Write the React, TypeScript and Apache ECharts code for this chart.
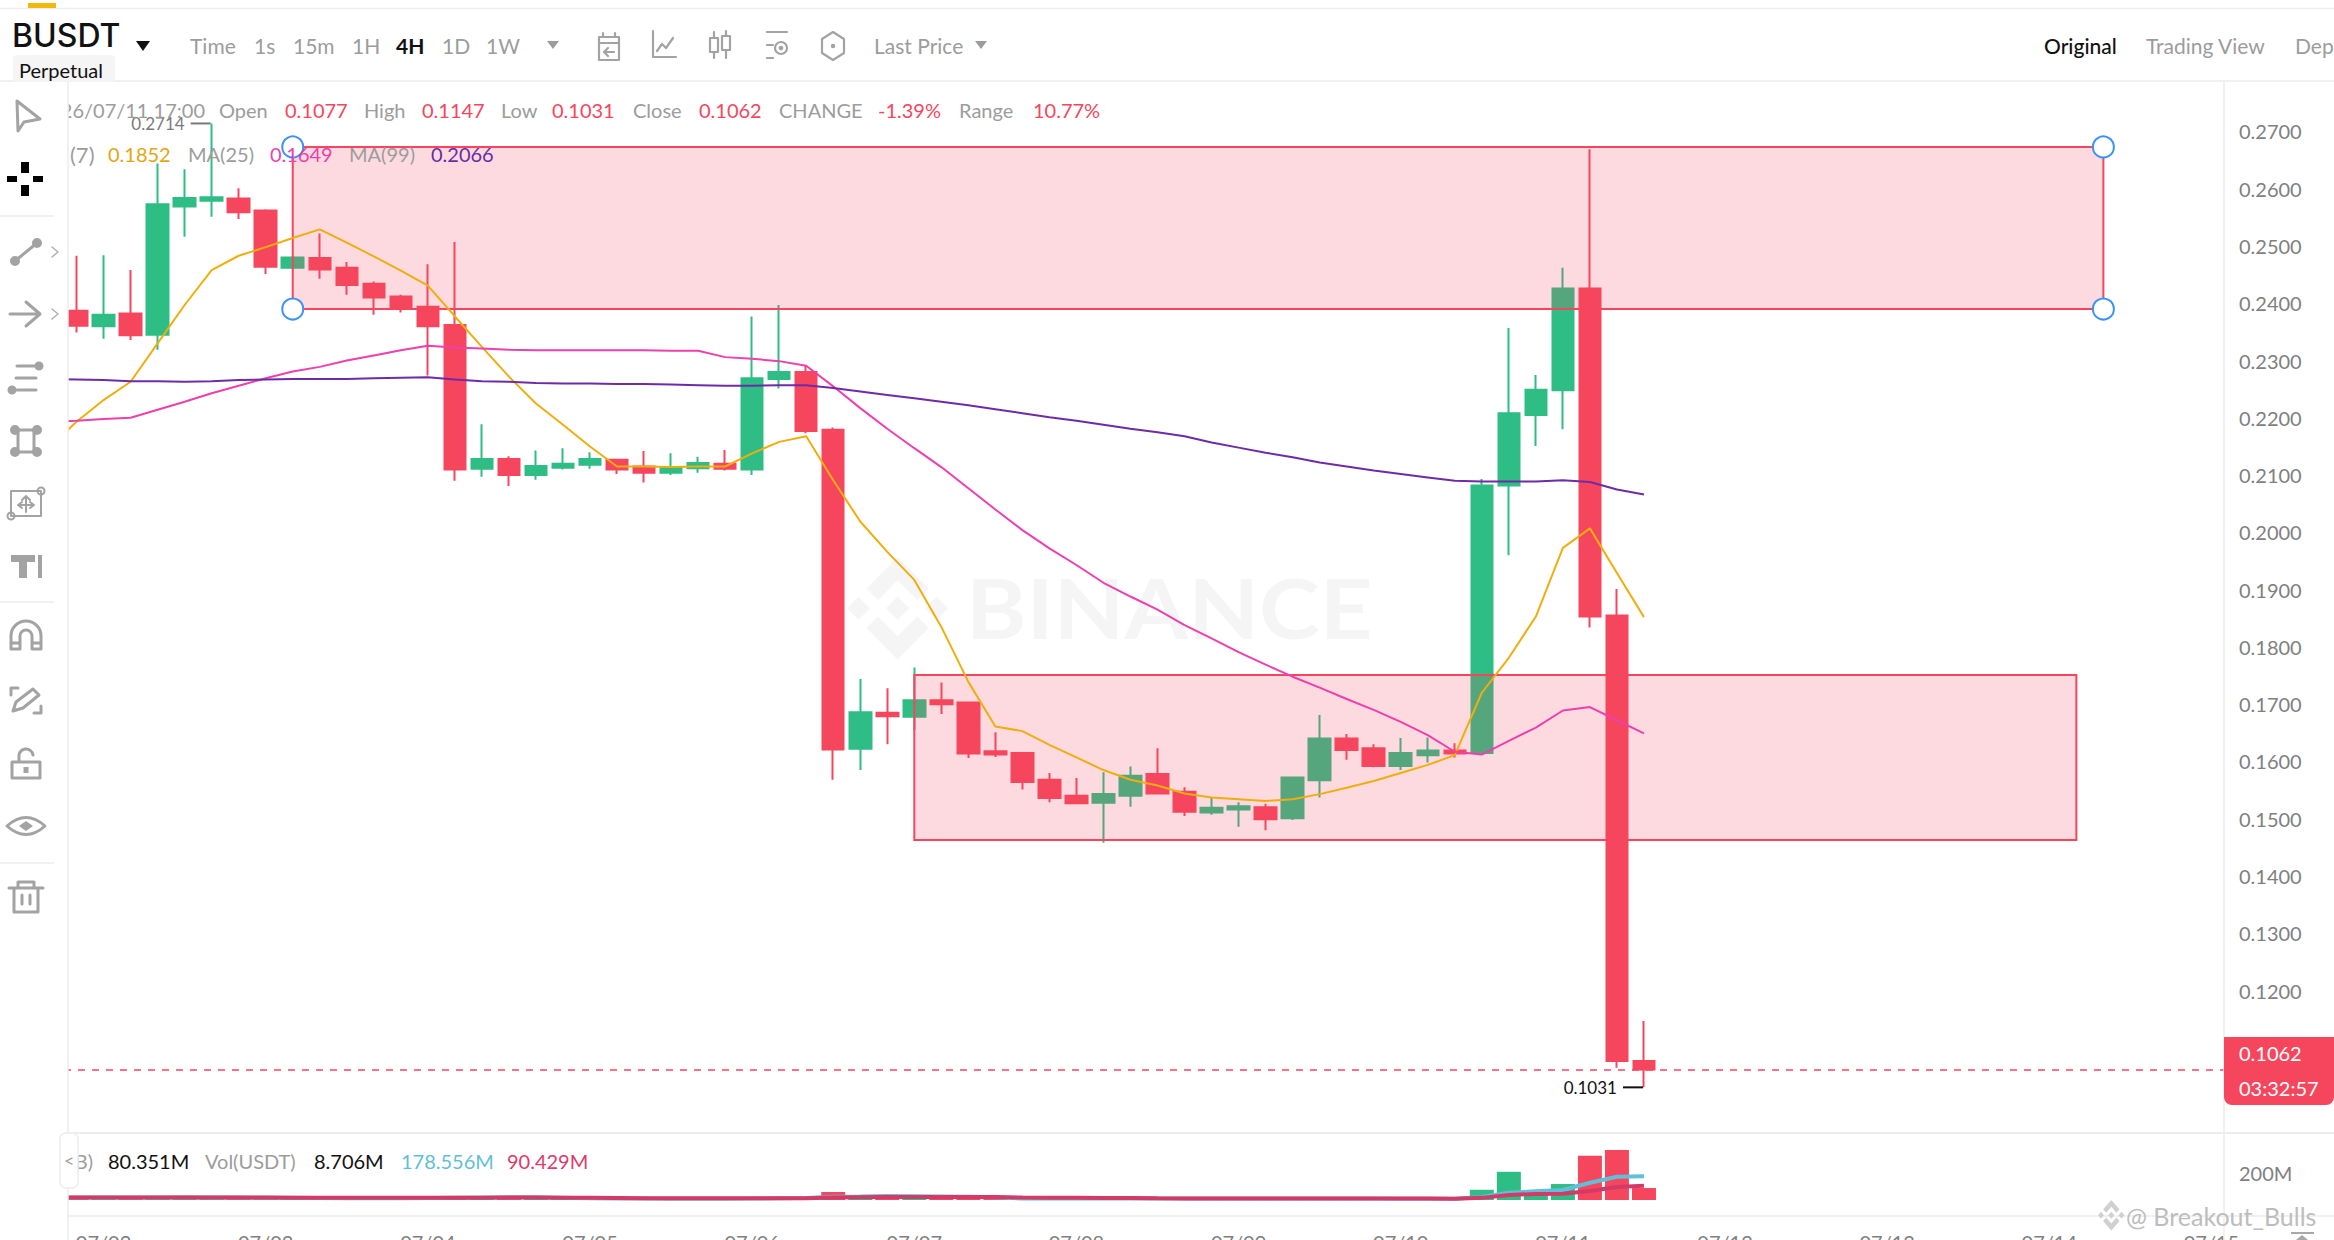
import React, { useEffect, useRef } from "react";
import * as echarts from "echarts";

const opens = [.2395,.2387,.2360,.2382,.2345,.2569,.2579,.2583,.2562,.2462,.2479,.2462,.2434,.2412,.2394,.2362,.2111,.2128,.2100,.2113,.2118,.2127,.2115,.2104,.2112,.2120,.2110,.2268,.2280,.2179,.1622,.1685,.1678,.1707,.1703,.1618,.1615,.1568,.1540,.1528,.1540,.1578,.1547,.1511,.1516,.1520,.1501,.1567,.1640,.1623,.1592,.1611,.1619,.1615,.2082,.2205,.2248,.2426,.1855,.1077];
const closes = [.2387,.2361,.2380,.2344,.2573,.2584,.2585,.2559,.2464,.2480,.2459,.2432,.2410,.2393,.2360,.2110,.2128,.2100,.2116,.2120,.2128,.2110,.2104,.2114,.2121,.2111,.2269,.2280,.2177,.1621,.1686,.1679,.1707,.1700,.1614,.1612,.1564,.1536,.1527,.1543,.1575,.1544,.1512,.1519,.1522,.1499,.1572,.1640,.1620,.1592,.1615,.1619,.1614,.2082,.2208,.2249,.2426,.1853,.1077,.1062];
const lows = [.2370,.2349,.2338,.2336,.2319,.2516,.2551,.2547,.2451,.2460,.2443,.2415,.2380,.2384,.2274,.2090,.2097,.2081,.2092,.2110,.2111,.2102,.2087,.2100,.2104,.2108,.2100,.2251,.2173,.1568,.1585,.1630,.1655,.1683,.1606,.1608,.1551,.1529,.1526,.1458,.1521,.1543,.1505,.1507,.1486,.1480,.1498,.1537,.1603,.1590,.1585,.1598,.1607,.1614,.1960,.2151,.2180,.1834,.1065,.1031];
const highs = [.2440,.2483,.2484,.2458,.2644,.2634,.2714,.2601,.2564,.2482,.2522,.2472,.2438,.2415,.2468,.2507,.2189,.2133,.2143,.2147,.2140,.2127,.2142,.2138,.2132,.2144,.2377,.2397,.2291,.2183,.1744,.1728,.1764,.1738,.1703,.1651,.1616,.1580,.1571,.1581,.1591,.1623,.1555,.1536,.1529,.1526,.1572,.1681,.1648,.1630,.1641,.1642,.1632,.2093,.2357,.2275,.2462,.2669,.1901,.1147];
const ma7 = [.2149,.2193,.2231,.2263,.2330,.2397,.2458,.2483,.2498,.2514,.2529,.2506,.2482,.2457,.2431,.2377,.2324,.2272,.2225,.2188,.2150,.2115,.2115,.2114,.2115,.2115,.2138,.2158,.2168,.2091,.2019,.1966,.1917,.1835,.1739,.1661,.1653,.1629,.1607,.1585,.1568,.1558,.1544,.1537,.1534,.1531,.1534,.1543,.1554,.1566,.1580,.1594,.1611,.1720,.1781,.1853,.1973,.2007,.1929,.1852];
const ma25 = [.2193,.2195,.2198,.2200,.2214,.2228,.2243,.2256,.2269,.2281,.2289,.2300,.2309,.2318,.2326,.2323,.2321,.2319,.2318,.2318,.2318,.2318,.2318,.2317,.2317,.2306,.2303,.2299,.2291,.2255,.2217,.2181,.2147,.2114,.2077,.2040,.2004,.1972,.1943,.1912,.1888,.1865,.1838,.1815,.1791,.1769,.1748,.1729,.1709,.1690,.1669,.1646,.1617,.1612,.1636,.1659,.1689,.1695,.1672,.1649];
const ma99 = [.2268,.2267,.2266,.2264,.2264,.2263,.2264,.2266,.2267,.2268,.2268,.2268,.2269,.2270,.2271,.2267,.2264,.2263,.2261,.2260,.2260,.2259,.2259,.2258,.2257,.2256,.2256,.2257,.2257,.2252,.2246,.2240,.2234,.2228,.2222,.2215,.2208,.2201,.2195,.2188,.2181,.2175,.2168,.2157,.2148,.2139,.2131,.2122,.2115,.2108,.2102,.2096,.2090,.2089,.2089,.2089,.2091,.2088,.2075,.2066];
const volumes = [18,18,16,20,22,14,12,14,20,12,14,14,12,10,24,30,18,16,12,10,9,10,10,10,9,8,22,14,20,60,22,14,12,10,14,9,12,12,9,12,10,12,12,10,9,10,14,12,10,9,9,8,8,77,212,70,120,332,376,90];
const volMa5 = [19,19,18,18,19,20,19,18,16,16,15,14,14,13,15,17,19,20,20,17,14,12,11,10,10,9,11,13,15,25,27,30,28,26,24,20,12,11,11,11,11,11,11,11,11,11,11,11,11,11,10,9,9,22,55,65,75,130,175,179];
const volMa10 = [18,18,18,18,18,18,18,18,18,17,17,17,16,16,16,16,17,18,18,17,16,15,14,13,13,13,13,14,14,18,20,22,22,22,22,22,19,17,16,15,15,13,12,12,11,11,11,11,11,11,11,11,10,16,38,45,47,68,97,107];
const dateLabels = ["07/02","07/03","07/04","07/05","07/06","07/07","07/08","07/09","07/10","07/11","07/12","07/13","07/14","07/15"];
const slotCount = 81;
const priceTicks = [0.12,0.13,0.14,0.15,0.16,0.17,0.18,0.19,0.2,0.21,0.22,0.23,0.24,0.25,0.26,0.27];
const upperZone = { from: 9, to: 76, top: 0.2673, bottom: 0.239 };
const lowerZone = { from: 32, to: 75, top: 0.1751, bottom: 0.1463 };
const lastPrice = 0.1062;

const GREEN = "#2EBD85";
const RED = "#F6465D";
const FONT = "Lato";
const GREY = "#9C9C9C";
const ICON = "#A3A3A3";

const circ = (cx: number, cy: number, r: number) =>
  `M${cx - r},${cy} A${r},${r} 0 1 1 ${cx + r},${cy} A${r},${r} 0 1 1 ${cx - r},${cy} Z `;

const BINANCE_LOGO = "M38.73 53.2L63.3 28.64l24.58 24.58 14.3-14.3L63.3 0 24.43 38.88l14.3 14.3zM0 63.31l14.3-14.3 14.3 14.3-14.3 14.3L0 63.31zm38.73 10.1L63.3 97.97l24.58-24.57 14.3 14.29-.01.01L63.3 126.61 24.43 87.74l-.02-.02 14.32-14.31zm58.98-10.1l14.3-14.3 14.3 14.3-14.3 14.3-14.3-14.3zM77.83 63.3h.01v.01L63.3 77.85 48.78 63.33l-.02-.02.02-.02 2.54-2.54 1.24-1.24L63.3 48.77l14.53 14.53z";

const shapes: Record<string, string> = {
  binanceLogo: BINANCE_LOGO,
  icCursor: "M-10,-15 L13,3 L-3,6 L-9,15 Z",
  icCross: "M-18,-3 H-8 V3 H-18 Z M8,-3 H18 V3 H8 Z M-4,-17 H4 V-6 H-4 Z M-4,6 H4 V17 H-4 Z",
  icLineDots: circ(-11, 9, 5) + circ(11, -9, 5),
  icLineBar: "M-11,9 L11,-9",
  icArrow: "M-16,0 H14 M0,-12 L14,0 L0,12",
  icChev: "M-3,-5 L3,0 L-3,5",
  icParDots: circ(13, -12, 4.5) + circ(-14, 12, 4.5),
  icParBars: "M-9,-12 H10 M-10,0 H10 M-9,12 H10",
  icNodeDots: circ(-11, -11, 5) + circ(11, -11, 5) + circ(-11, 11, 5) + circ(11, 11, 5),
  icNodeBars: "M-11,-11 H11 M-11,11 H11 M-8,-11 V11 M8,-11 V11",
  icBox: "M-15,-12 H15 V13 H-15 Z M0,-7 V9 M-8,2 H8 M-4,-3 L0,-7 L4,-3 M-4,5 L-8,2 L-4,-1 M4,-1 L8,2 L4,5",
  icBoxDots: circ(15, -12, 3.5) + circ(-15, 13, 3.5),
  icText: "M-15,-11 H9 V-4 H1 V12 H-7 V-4 H-15 Z M12,-11 H16 V12 H12 Z",
  icMagnet: "M-15,12 V-1 A15,15 0 0 1 15,-1 V12 H6 V-1 A6,6 0 0 0 -6,-1 V12 Z M-15,6 H-6 M6,6 H15",
  icPencil: "M-13,11 L-10,2 L7,-11 L13,-5 L-3,8 Z M-15,-5 V-12 H-8 M8,13 H15 V6",
  icLock: "M-14,-2 H14 V14 H-14 Z M-7,-2 V-7 A7,7 0 0 1 7,-9",
  icLockKey: "M-2.5,3 H2.5 V9 H-2.5 Z",
  icEye: "M-19,0 Q0,-17 19,0 Q0,17 -19,0 Z",
  icEyeCore: "M-7,0 L0,-5 L7,0 L0,5 Z",
  icTrash: "M-17,-9 H17 M-8,-9 V-15 H8 V-9 M-12,-9 V15 H12 V-9 M-4,-2 V7 M4,-2 V7",
  icCalendar: "M-10,-9 H10 V14 H-10 Z M-10,-3 H10 M-6,-13 V-9 M6,-13 V-9 M5,6 H-4 M-1,2 L-5,6 L-1,10",
  icChart: "M-11,-14 V12 H12 M-7,6 L-2,-1 L2,3 L9,-7",
  icCandle: "M-10,-7 H-2 V7 H-10 Z M2,-9 H10 V5 H2 Z M-6,-13 V-7 M-6,7 V13 M6,-14 V-9 M6,5 V13",
  icSetting: "M-10,-13 H10 M-10,0 H-4 M-10,13 H-4",
  icSettingDial: circ(4, 3, 6) + circ(4, 3, 1.2),
  icHex: "M0,-14 L11,-7 V7 L0,14 L-11,7 V-7 Z",
  icHexCore: circ(0, 0, 2.2),
};
Object.entries(shapes).forEach(([name, d]) => {
  echarts.graphic.registerShape(name, echarts.graphic.extendPath(d, {}));
});

const txt = (text: string, x: number, y: number, fill: string, fontSize = 20, extra: any = {}) => ({
  type: "text",
  x,
  y,
  scaleX: extra.scaleX ?? 1,
  z: extra.z ?? 10,
  silent: true,
  style: {
    text,
    fill,
    fontFamily: extra.family ?? FONT,
    fontSize,
    fontWeight: extra.weight ?? 400,
    textAlign: extra.align ?? "left",
    align: extra.align ?? "left",
    textVerticalAlign: "middle",
    verticalAlign: "middle",
    opacity: extra.opacity ?? 1,
  },
});
const strokeIcon = (type: string, x: number, y: number, color = ICON, lineWidth = 3, z = 21) => ({
  type, x, y, z, silent: true,
  style: { fill: "none", stroke: color, lineWidth, lineCap: "round", lineJoin: "round" },
});
const fillIcon = (type: string, x: number, y: number, color = ICON, z = 21) => ({
  type, x, y, z, silent: true, style: { fill: color },
});
const hline = (x1: number, x2: number, y: number, color = "#EDEDED", w = 1.5, z = 9) => ({
  type: "line", z, silent: true,
  shape: { x1, y1: y, x2, y2: y },
  style: { stroke: color, lineWidth: w },
});
const vline = (x: number, y1: number, y2: number, color = "#EDEDED", w = 1.5, z = 9) => ({
  type: "line", z, silent: true,
  shape: { x1: x, y1, x2: x, y2 },
  style: { stroke: color, lineWidth: w },
});
const tri = (cx: number, cy: number, w: number, h: number, fill: string) => ({
  type: "polygon", z: 10, silent: true,
  shape: { points: [[cx - w / 2, cy - h / 2], [cx + w / 2, cy - h / 2], [cx, cy + h / 2]] },
  style: { fill },
});

function buildGraphics() {
  const els: any[] = [
    // watermark
    { type: "binanceLogo", x: 847, y: 557, scaleX: 0.8, scaleY: 0.81, z: 0, silent: true, style: { fill: "#F5F5F5" } },
    txt("BINANCE", 966, 607, "#F5F5F5", 82, { z: 0, weight: 700, scaleX: 1.12 }),
    // header chrome
    hline(0, 2334, 8.5),
    { type: "rect", z: 10, silent: true, shape: { x: 28, y: 3, width: 28, height: 5 }, style: { fill: "#F0B90B" } },
    hline(0, 2334, 81),
    txt("BUSDT", 12, 35, "#111111", 32, { family: "Inter", weight: 500 }),
    tri(143, 46, 14, 10, "#111111"),
    { type: "rect", z: 10, silent: true, shape: { x: 13, y: 55, width: 102, height: 27, r: 4 }, style: { fill: "#F5F5F5" } },
    txt("Perpetual", 19, 70, "#111111", 20),
    txt("Time", 190, 45, GREY, 21),
    txt("1s", 254, 45, GREY, 21),
    txt("15m", 293, 45, GREY, 21),
    txt("1H", 352, 45, GREY, 21),
    txt("4H", 396, 45, "#111111", 21, { weight: 700 }),
    txt("1D", 442, 45, GREY, 21),
    txt("1W", 486, 45, GREY, 21),
    tri(553, 45, 12, 8, GREY),
    strokeIcon("icCalendar", 609, 46, ICON, 2.2, 10),
    strokeIcon("icChart", 664, 45, ICON, 2.2, 10),
    strokeIcon("icCandle", 720, 45, ICON, 2.2, 10),
    strokeIcon("icSetting", 777, 45, ICON, 2.2, 10),
    strokeIcon("icSettingDial", 777, 45, ICON, 2.2, 10),
    strokeIcon("icHex", 833, 46, ICON, 2.2, 10),
    fillIcon("icHexCore", 833, 46, ICON, 10),
    txt("Last Price", 874, 45, GREY, 21),
    tri(981, 45, 12, 8, GREY),
    txt("Original", 2044, 45, "#111111", 21, { weight: 500 }),
    txt("Trading View", 2146, 45, GREY, 21),
    txt("Dep", 2295, 45, GREY, 21),
    // legend rows
    txt("2026/07/11 17:00", 205, 110, GREY, 20, { align: "right" }),
    txt("Open", 219, 110, GREY), txt("0.1077", 285, 110, RED),
    txt("High", 364, 110, GREY), txt("0.1147", 422, 110, RED),
    txt("Low", 501, 110, GREY), txt("0.1031", 552, 110, RED),
    txt("Close", 633, 110, GREY), txt("0.1062", 699, 110, RED),
    txt("CHANGE", 779, 110, GREY), txt("-1.39%", 878, 110, RED),
    txt("Range", 959, 110, GREY), txt("10.77%", 1033, 110, RED),
    txt("(7)", 70, 154, GREY, 22), txt("0.1852", 108, 154, "#E5A50E"),
    txt("MA(25)", 188, 154, GREY), txt("0.1649", 270, 154, "#EE3FAE"),
    txt("MA(99)", 349, 154, GREY), txt("0.2066", 431, 154, "#6A2AA6"),
    // panes
    hline(68, 2334, 1133, "#EDEDED", 2),
    hline(68, 2334, 1216, "#EDEDED", 1.5),
    vline(2224, 81, 1240),
    txt("Vol(B)", 93, 1161, GREY, 20, { align: "right" }),
    txt("80.351M", 108, 1161, "#111111"),
    txt("Vol(USDT)", 205, 1161, GREY),
    txt("8.706M", 314, 1161, "#111111"),
    txt("178.556M", 401, 1161, "#61BFD8"),
    txt("90.429M", 507, 1161, "#E0396A"),
    // price badge
    { type: "rect", z: 12, silent: true, shape: { x: 2224, y: 1037, width: 110, height: 68, r: [0, 0, 8, 8] }, style: { fill: RED } },
    txt("0.1062", 2239, 1053, "#FFFFFF", 20, { z: 13 }),
    txt("03:32:57", 2239, 1088, "#FFFFFF", 20, { z: 13 }),
    // author mark
    { type: "binanceLogo", x: 2098, y: 1200, scaleX: 0.21, scaleY: 0.24, z: 14, silent: true, style: { fill: "#D0D0D0" } },
    txt("@ Breakout_Bulls", 2126, 1216, "#BDBDBD", 25, { z: 14 }),
    hline(2291, 2314, 1233, "#A8A8A8", 2, 14),
    { type: "polygon", z: 14, silent: true, shape: { points: [[2302, 1235], [2308, 1240], [2296, 1240]] }, style: { fill: "#A8A8A8" } },
    // sidebar
    { type: "rect", z: 20, silent: true, shape: { x: 0, y: 82, width: 68, height: 1158 }, style: { fill: "#FFFFFF" } },
    vline(68, 81, 1240, "#EDEDED", 1.5, 21),
    hline(0, 54, 216, "#EDEDED", 1.5, 21),
    hline(0, 54, 602, "#EDEDED", 1.5, 21),
    hline(0, 54, 863, "#EDEDED", 1.5, 21),
    strokeIcon("icCursor", 27, 116),
    fillIcon("icCross", 25, 179, "#000000"),
    fillIcon("icLineDots", 26, 252),
    strokeIcon("icLineBar", 26, 252),
    strokeIcon("icChev", 55, 252, "#B0B0B0", 1.5),
    strokeIcon("icArrow", 26, 314),
    strokeIcon("icChev", 55, 314, "#B0B0B0", 1.5),
    fillIcon("icParDots", 26, 378),
    strokeIcon("icParBars", 26, 378),
    fillIcon("icNodeDots", 26, 441),
    strokeIcon("icNodeBars", 26, 441),
    strokeIcon("icBox", 26, 503, ICON, 2),
    strokeIcon("icBoxDots", 26, 503, ICON, 2),
    fillIcon("icText", 26, 566),
    strokeIcon("icMagnet", 26, 637),
    strokeIcon("icPencil", 26, 700),
    strokeIcon("icLock", 26, 764),
    fillIcon("icLockKey", 26, 764),
    strokeIcon("icEye", 26, 826),
    fillIcon("icEyeCore", 26, 826),
    strokeIcon("icTrash", 26, 897),
    // collapse handle
    { type: "rect", z: 22, silent: true, shape: { x: 60, y: 1133, width: 18, height: 55, r: 6 }, style: { fill: "#FFFFFF", stroke: "#EDEDED", lineWidth: 1.5 } },
    txt("<", 64, 1160, GREY, 18, { z: 23 }),
  ];
  return els;
}

function buildOption() {
  const categories = Array.from({ length: slotCount }, (_, i) => String(i));
  const candles = opens.map((o, i) => [o, closes[i], lows[i], highs[i]]);
  const zone = (z: typeof upperZone) => [{ xAxis: z.from, yAxis: z.top }, { xAxis: z.to, yAxis: z.bottom }];
  const ma = (data: number[], color: string) => ({
    type: "line", data, xAxisIndex: 0, yAxisIndex: 0, symbol: "none", z: 6, silent: true,
    lineStyle: { color, width: 2 },
  });
  const volMa = (data: number[], color: string, z: number) => ({
    type: "line", data, xAxisIndex: 1, yAxisIndex: 1, symbol: "none", z, silent: true,
    lineStyle: { color, width: 4 },
  });
  const extreme = (value: number, idx: number, textColor: string, barColor: string) => ({
    coord: [idx, value],
    value,
    symbol: "rect",
    symbolSize: [20, 2],
    symbolOffset: [-11, 0],
    itemStyle: { color: barColor },
    label: { show: true, position: "left", distance: 6, color: textColor, fontFamily: FONT, fontSize: 17, formatter: value.toFixed(4) },
  });
  return {
    animation: false,
    backgroundColor: "#FFFFFF",
    graphic: buildGraphics(),
    grid: [
      { left: 36, width: 2189, top: 74.2, height: 1030.9, outerBoundsMode: "none" },
      { left: 36, width: 2189, top: 1146.8, height: 53.2, outerBoundsMode: "none" },
    ],
    xAxis: [
      { type: "category", gridIndex: 0, data: categories, boundaryGap: true, axisLine: { show: false }, axisTick: { show: false }, axisLabel: { show: false }, splitLine: { show: false } },
      {
        type: "category", gridIndex: 1, data: categories, boundaryGap: true,
        axisLine: { show: false }, axisTick: { show: false }, splitLine: { show: false },
        axisLabel: {
          show: true, margin: 32, color: "#808080", fontFamily: FONT, fontSize: 20, hideOverlap: false,
          interval: (i: number) => (i - 2) % 6 === 0,
          formatter: (_: string, i: number) => dateLabels[(i - 2) / 6] ?? "",
        },
      },
    ],
    yAxis: [
      {
        type: "value", gridIndex: 0, position: "right", min: 0.1, max: 0.28, interval: 0.01,
        axisLine: { show: false }, axisTick: { show: false }, splitLine: { show: false },
        axisLabel: {
          margin: 14, color: "#808080", fontFamily: FONT, fontSize: 20,
          formatter: (v: number) => (priceTicks.some((t) => Math.abs(t - v) < 1e-6) ? v.toFixed(4) : ""),
        },
      },
      {
        type: "value", gridIndex: 1, position: "right", min: 0, max: 400, interval: 200,
        axisLine: { show: false }, axisTick: { show: false }, splitLine: { show: false },
        axisLabel: {
          margin: 14, color: "#808080", fontFamily: FONT, fontSize: 20,
          formatter: (v: number) => (v === 200 ? "200M" : ""),
        },
      },
    ],
    series: [
      {
        type: "candlestick", xAxisIndex: 0, yAxisIndex: 0, data: candles, barWidth: 22, z: 2, silent: true, clip: true,
        itemStyle: { color: GREEN, color0: RED, borderColor: GREEN, borderColor0: RED, borderWidth: 2 },
        markArea: {
          z: 3, silent: true,
          itemStyle: { color: "rgba(246,70,93,0.2)", borderColor: RED, borderWidth: 2 },
          data: [zone(upperZone), zone(lowerZone)],
        },
        markLine: {
          z: 4, silent: true, symbol: "none", precision: 4, label: { show: false },
          lineStyle: { color: RED, type: [7, 7], width: 1.5 },
          data: [{ yAxis: lastPrice }],
        },
        markPoint: {
          z: 5, silent: true,
          data: [extreme(Math.max(...highs), highs.indexOf(Math.max(...highs)), "#7A7A7A", "#7A7A7A"),
                 extreme(Math.min(...lows), lows.indexOf(Math.min(...lows)), "#111111", "#111111")],
        },
      },
      ma(ma7, "#F0AE0C"),
      ma(ma25, "#EE3FAE"),
      ma(ma99, "#6F2BA6"),
      {
        type: "scatter", xAxisIndex: 0, yAxisIndex: 0, symbolSize: 21, z: 7, silent: true,
        itemStyle: { color: "#FFFFFF", borderColor: "#3B93F5", borderWidth: 2, opacity: 1 },
        data: [[upperZone.from, upperZone.top], [upperZone.from, upperZone.bottom], [upperZone.to, upperZone.top], [upperZone.to, upperZone.bottom]],
      },
      {
        type: "bar", xAxisIndex: 1, yAxisIndex: 1, barWidth: 24, z: 2, silent: true,
        data: volumes.map((v, i) => ({ value: v, itemStyle: { color: closes[i] >= opens[i] ? GREEN : RED } })),
      },
      volMa(volMa5, "#61BFD8", 3),
      volMa(volMa10, "#D33A68", 4),
    ],
  };
}

export default function App() {
  const ref = useRef<HTMLDivElement>(null);
  useEffect(() => {
    document.body.style.margin = "0";
    document.body.style.overflow = "hidden";
    const chart = echarts.init(ref.current as HTMLDivElement, undefined, { renderer: "svg" });
    chart.setOption(buildOption() as any);
    return () => chart.dispose();
  }, []);
  return <div ref={ref} style={{ position: "absolute", left: 0, top: 0, width: 2334, height: 1240 }} />;
}
